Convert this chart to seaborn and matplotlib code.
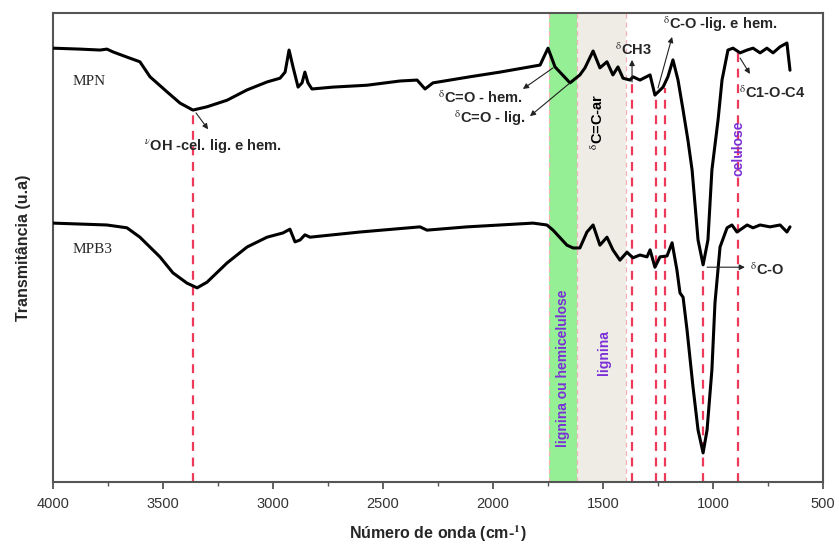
import numpy as np
import pandas as pd
import seaborn as sns
import matplotlib
matplotlib.use("Agg")
import matplotlib.pyplot as plt

# ---------------- data ----------------
mpn_wn = [4000, 3877, 3786, 3755, 3727, 3664, 3605, 3559, 3482, 3423, 3364, 3300, 3209,
          3118, 3027, 2968, 2945, 2927, 2909, 2886, 2868, 2855, 2841, 2823, 2727, 2573,
          2423, 2345, 2309, 2273, 2105, 1968, 1786, 1750, 1718, 1650, 1605, 1582, 1545,
          1514, 1482, 1455, 1432, 1409, 1377, 1364, 1332, 1286, 1264, 1227, 1205, 1182,
          1159, 1136, 1114, 1095, 1068, 1045, 1023, 1005, 977, 959, 932, 909, 877, 845,
          818, 786, 755, 727, 695, 664, 650]
mpn_t = [92.5, 92.3, 92.1, 92.3, 91.7, 90.6, 89.6, 86.4, 83.2, 80.8, 79.3, 80.0, 81.4,
         83.6, 85.3, 86.1, 87.4, 92.1, 88.5, 84.2, 85.1, 87.4, 85.1, 83.8, 84.2, 84.6,
         85.5, 85.7, 83.8, 85.1, 86.4, 87.4, 88.9, 92.5, 88.5, 85.1, 86.8, 88.3, 91.9,
         88.3, 89.6, 86.8, 88.5, 86.1, 85.7, 86.4, 85.7, 86.8, 82.5, 84.2, 86.4, 90.0,
         85.7, 79.3, 72.9, 66.5, 51.6, 46.3, 51.6, 66.5, 77.2, 85.7, 92.1, 92.5, 91.5,
         92.1, 92.5, 91.5, 92.5, 91.5, 92.8, 93.6, 87.8]

mpb3_wn = [4000, 3877, 3755, 3664, 3605, 3514, 3455, 3391, 3345, 3300, 3209, 3118, 3027,
           2955, 2923, 2900, 2877, 2855, 2832, 2605, 2332, 2300, 2118, 1818, 1755, 1727,
           1664, 1636, 1605, 1573, 1545, 1514, 1482, 1455, 1423, 1391, 1364, 1332, 1300,
           1286, 1264, 1241, 1209, 1186, 1164, 1150, 1136, 1118, 1091, 1068, 1045, 1027,
           1005, 991, 968, 936, 914, 891, 845, 818, 786, 741, 695, 664, 650]
mpb3_t = [55.2, 55.0, 54.8, 54.2, 52.2, 48.0, 44.6, 42.4, 41.4, 42.6, 46.7, 50.1, 52.2,
          53.1, 53.9, 51.2, 51.6, 52.7, 52.2, 53.3, 54.4, 53.7, 54.4, 55.2, 54.8, 53.7,
          50.5, 49.9, 49.9, 53.3, 54.8, 50.5, 52.2, 49.5, 47.3, 49.0, 47.8, 48.4, 48.0,
          49.5, 45.8, 48.0, 48.2, 51.0, 45.2, 40.3, 39.4, 32.4, 20.3, 11.1, 6.2, 11.1,
          23.9, 38.2, 50.1, 54.2, 54.8, 53.3, 54.8, 54.2, 54.8, 54.4, 54.8, 53.3, 54.4]

# dashed marker lines: position and top (T units)
vline_wn = [3364, 1368, 1259, 1218, 1045, 886]
vline_top = [79.3, 85.3, 82.5, 84.0, 46.3, 91.5]

# shaded regions
band_green = (1745, 1618)
band_beige = (1618, 1395)

xticks = [4000, 3500, 3000, 2500, 2000, 1500, 1000, 500]

# ---------------- figure ----------------
sns.set_style("ticks")
plt.rcParams["font.family"] = ["Liberation Sans", "DejaVu Sans"]
plt.rcParams["mathtext.fontset"] = "stix"

fig = plt.figure(figsize=(8.39, 5.50), dpi=100)
ax = fig.add_axes([53 / 839, 1 - 482 / 550, (823 - 53) / 839, (482 - 13) / 550])

ax.axvspan(band_green[1], band_green[0], color="#95ef95", zorder=0, lw=0)
ax.axvspan(band_beige[1], band_beige[0], color="#efece6", zorder=0, lw=0)
for edge in [band_green[0], band_green[1], band_beige[1]]:
    ax.axvline(edge, color="#f4b0b8", lw=0.9, ls=(0, (4, 3)), zorder=1)

for w, top in zip(vline_wn, vline_top):
    ax.vlines(w, 0, top, colors="#ee3a5a", lw=1.6, linestyles=(0, (4, 3)), zorder=1)

df1 = pd.DataFrame({"wn": mpn_wn, "T": mpn_t})
df2 = pd.DataFrame({"wn": mpb3_wn, "T": mpb3_t})
sns.lineplot(data=df1, x="wn", y="T", ax=ax, color="black", lw=2.2, estimator=None, zorder=3)
sns.lineplot(data=df2, x="wn", y="T", ax=ax, color="black", lw=2.2, estimator=None, zorder=3)

ax.set_xlim(4000, 500)
ax.set_ylim(0, 100)
ax.set_xticks(xticks)
ax.set_xticklabels([str(t) for t in xticks], fontsize=10.5, color="#333333")
ax.set_xticks([3750, 3250, 2750, 2250, 1750, 1250, 750], minor=True)
ax.set_yticks([])
ax.tick_params(axis="x", which="major", direction="out", length=5, width=1.3, color="#555555", pad=6)
ax.tick_params(axis="x", which="minor", direction="out", length=3, width=1.0, color="#555555")
for s in ax.spines.values():
    s.set_color("#555555")
    s.set_linewidth(1.5)

ax.set_xlabel("Número de onda (cm-$^{\\mathbf{1}}$)", fontsize=11.5, fontweight="bold", labelpad=9)
ax.set_ylabel("Transmitância (u.a)", fontsize=11.5, fontweight="bold", labelpad=16)

# sample labels
ax.text(3910, 85.5, "MPN", family=["Liberation Serif"], fontsize=11, va="center", ha="left")
ax.text(3910, 49.5, "MPB3", family=["Liberation Serif"], fontsize=11, va="center", ha="left")

# band labels
purple = "#7a2fd6"
ax.text(1682, 24.3, "lignina ou hemicelulose", rotation=90, color=purple, fontsize=10,
        fontweight="bold", ha="center", va="center", zorder=4)
ax.text(1495, 27.5, "lignina", rotation=90, color=purple, fontsize=10,
        fontweight="bold", ha="center", va="center", zorder=4)
ax.text(886, 71.2, "celulose", rotation=90, color=purple, fontsize=10,
        fontweight="bold", ha="center", va="center", zorder=4)
ax.text(1523, 76.8, "$^{\\mathrm{\\delta}}$C=C-ar", rotation=90, color="black", fontsize=10.5,
        fontweight="bold", ha="center", va="center", zorder=4)

arrow = dict(arrowstyle="-|>", color="#222222", lw=0.8, mutation_scale=8, shrinkA=0, shrinkB=0)

def note(text, xy_text, xy_from, xy_to, ha="center", fs=10.5):
    ax.text(xy_text[0], xy_text[1], text, fontsize=fs, fontweight="bold", ha=ha, va="center", zorder=5)
    ax.annotate("", xy=xy_to, xytext=xy_from, arrowprops=arrow, zorder=5)

note("$^{\\nu}$OH -cel. lig. e hem.", (3273, 71.4), (3350, 78.7), (3295, 75.2))
note("$^{\\mathrm{\\delta}}$C=O - hem.", (2059, 81.9), (1727, 88.3), (1864, 83.8))
note("$^{\\mathrm{\\delta}}$C=O - lig.", (2014, 77.6), (1650, 85.1), (1832, 78.0))
note("$^{\\mathrm{\\delta}}$CH3", (1364, 92.1), (1368, 85.3), (1368, 90.0))
note("$^{\\mathrm{\\delta}}$C-O -lig. e hem.", (968, 97.7), (1250, 84.0), (1186, 94.9))
note("$^{\\mathrm{\\delta}}$C1-O-C4", (732, 82.9), (877, 90.4), (832, 87.0))
note("$^{\\mathrm{\\delta}}$C-O", (832, 45.2), (1027, 45.8), (855, 45.8), ha="left")

fig.savefig("out.png", dpi=100)
